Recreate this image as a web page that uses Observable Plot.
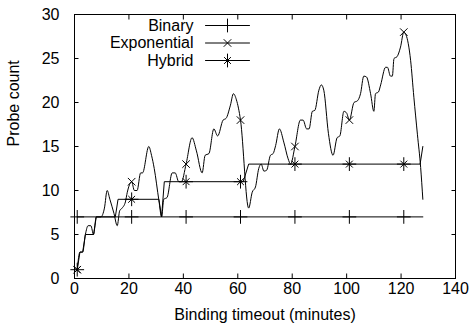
<!DOCTYPE html>
<html>
<head>
<meta charset="utf-8">
<script src="https://cdn.jsdelivr.net/npm/d3@7"></script>
<script src="https://cdn.jsdelivr.net/npm/@observablehq/plot@0.6"></script>
<style>
  html, body { margin: 0; padding: 0; background: white; }
  #chart { width: 471px; height: 334px; }
</style>
</head>
<body>
<div id="chart"></div>
<script>
// ---- data ----
const seriesNames = ["Binary", "Exponential", "Hybrid"];
const xTicks = [0, 20, 40, 60, 80, 100, 120, 140];
const yTicks = [0, 5, 10, 15, 20, 25, 30];
const markerX = [1, 21, 41, 61, 81, 101, 121];

const binX = [1, 21, 41, 61, 81, 101, 121, 128];
const binY = [7, 7, 7, 7, 7, 7, 7, 7];

const expX = [1, 2, 3, 4, 5, 6, 7, 8, 9.7, 11, 12, 13, 14.5, 15.7, 16.6, 17.5, 18.7, 19.4, 21, 22, 23, 24.3, 25, 27.3, 28.3, 29.3, 31, 32, 32.8, 34, 35.9, 37, 38.3, 39.3, 41, 43.2, 44.8, 46.9, 48, 49.4, 51.2, 52.6, 54.6, 55.7, 57.3, 58.4, 59.5, 61, 64, 65.3, 66.5, 67.7, 68.6, 69.6, 70.6, 72, 73, 73.9, 75.3, 76.9, 78.5, 79.4, 81, 83, 84, 85.3, 86.2, 87.4, 88.3, 89.8, 90.7, 91.6, 93.3, 95, 96.5, 97.5, 99, 100, 101, 102.7, 104, 105.1, 106.3, 107.3, 108.8, 110, 110.6, 111.7, 112.5, 114.3, 115, 116.1, 116.8, 117.4, 118.5, 119.8, 121, 121.8, 123.5, 124.7, 126, 127.2, 128];
const expY = [1, 3, 3, 5, 6, 6, 5, 7, 7, 8, 10, 9, 7.4, 6, 7.7, 8, 8.7, 9.8, 11, 10, 10, 12, 12, 15, 14, 12.5, 8.9, 7, 9, 9.2, 12, 12, 11, 11, 13, 16, 14.5, 12, 14, 14.2, 17, 16.2, 18, 18.2, 19.7, 21, 20.3, 18, 8, 9.8, 10.4, 12.5, 13, 12.2, 12.3, 14, 14.2, 15.1, 17, 15.5, 13.6, 13, 15, 18, 18, 17, 17, 19, 19.1, 21.4, 22, 21.4, 16.5, 14, 16, 16.2, 19, 18.8, 18, 20, 20.2, 21, 23, 22.9, 21, 19, 21, 21.2, 22, 24, 24, 23, 23, 25, 25.2, 26.3, 28, 27.7, 24.8, 20.6, 16.4, 12.6, 9];

const hybX = [1, 2, 3, 4, 7, 8, 15, 16, 21, 31, 32, 33, 41, 61, 62, 64, 81, 101, 121, 127, 128];
const hybY = [1, 3, 3, 5, 5, 7, 7, 9, 9, 9, 7, 11, 11, 11, 11, 13, 13, 13, 13, 13, 15];

// ---- tables ----
const toRows = (xs, ys) => xs.map((x, i) => ({x, y: ys[i]}));
const binary = toRows(binX, binY);
const expo = toRows(expX, expY);
const hybrid = toRows(hybX, hybY);
const atMarkers = rows => rows.filter(d => markerX.includes(d.x));

const FONT = "'Liberation Sans', Arial, Helvetica, sans-serif";
const lineShape = { draw(context, l) { context.moveTo(0, 0); context.lineTo(0, -l); } };

// legend layout (pixels relative to the frame's top-right corner)
const legendRowDy = [11, 28.5, 46];
const legendSymbols = [["plus"], ["times"], ["plus", "times"]];
const symR = {plus: 4.5, times: 3.5};

const legendMarks = seriesNames.flatMap((name, i) => [
  Plot.text([name], {frameAnchor: "top-right", dx: -262, dy: legendRowDy[i], text: d => d,
    textAnchor: "end", lineAnchor: "middle", fill: "black", fontSize: 16}),
  Plot.vector([0], {frameAnchor: "top-right", dx: -250, dy: legendRowDy[i], length: 44, rotate: 90,
    anchor: "start", shape: lineShape, stroke: "black", strokeWidth: 1}),
  ...legendSymbols[i].map(s => Plot.dot([0], {frameAnchor: "top-right", dx: -228, dy: legendRowDy[i],
    symbol: s, r: s === "times" && i === 2 ? 3.2 : symR[s], stroke: "black", fill: "none", strokeWidth: 1}))
]);

const noText = () => "";

const chart = Plot.plot({
  width: 471,
  height: 334,
  marginLeft: 74,
  marginRight: 16,
  marginTop: 14,
  marginBottom: 56,
  x: {domain: [0, 140]},
  y: {domain: [0, 30]},
  style: {fontFamily: FONT, fontSize: "16px", background: "white", color: "black", overflow: "visible"},
  marks: [
    // tick labels
    Plot.axisX(xTicks, {anchor: "bottom", tickSize: 0, tickPadding: 4, label: null}),
    Plot.axisY(yTicks, {anchor: "left", tickSize: 0, tickPadding: 15, label: null}),
    // inward ticks on all four sides
    Plot.axisX(xTicks, {anchor: "bottom", tickSize: 4.5, dy: -4.5, tickFormat: noText, label: null}),
    Plot.axisX(xTicks, {anchor: "top", tickSize: 4.5, dy: 4.5, tickFormat: noText, label: null}),
    Plot.axisY(yTicks, {anchor: "left", tickSize: 4.5, dx: 4.5, tickFormat: noText, label: null}),
    Plot.axisY(yTicks, {anchor: "right", tickSize: 4.5, dx: -4.5, tickFormat: noText, label: null}),
    // axis titles
    Plot.text(["Binding timeout (minutes)"], {frameAnchor: "bottom", dy: 36, text: d => d,
      lineAnchor: "middle", fill: "black", fontSize: 16}),
    Plot.text(["Probe count"], {frameAnchor: "left", dx: -61, rotate: -90, text: d => d,
      lineAnchor: "middle", fill: "black", fontSize: 16}),
    // series
    Plot.line(binary, {x: "x", y: "y", stroke: "black", strokeWidth: 1}),
    Plot.line(hybrid, {x: "x", y: "y", stroke: "black", strokeWidth: 1}),
    Plot.line(expo, {x: "x", y: "y", stroke: "black", strokeWidth: 1, curve: "monotone-x"}),
    Plot.dot(atMarkers(binary), {x: "x", y: "y", symbol: "plus", r: 4.5, stroke: "black", fill: "none", strokeWidth: 1}),
    Plot.dot(atMarkers(expo), {x: "x", y: "y", symbol: "times", r: 3.5, stroke: "black", fill: "none", strokeWidth: 1}),
    Plot.dot(atMarkers(hybrid), {x: "x", y: "y", symbol: "plus", r: 4.5, stroke: "black", fill: "none", strokeWidth: 1}),
    Plot.dot(atMarkers(hybrid), {x: "x", y: "y", symbol: "times", r: 3.2, stroke: "black", fill: "none", strokeWidth: 1}),
    ...legendMarks,
    Plot.frame({stroke: "black", strokeWidth: 1})
  ]
});

document.getElementById("chart").appendChild(chart);
</script>
</body>
</html>
